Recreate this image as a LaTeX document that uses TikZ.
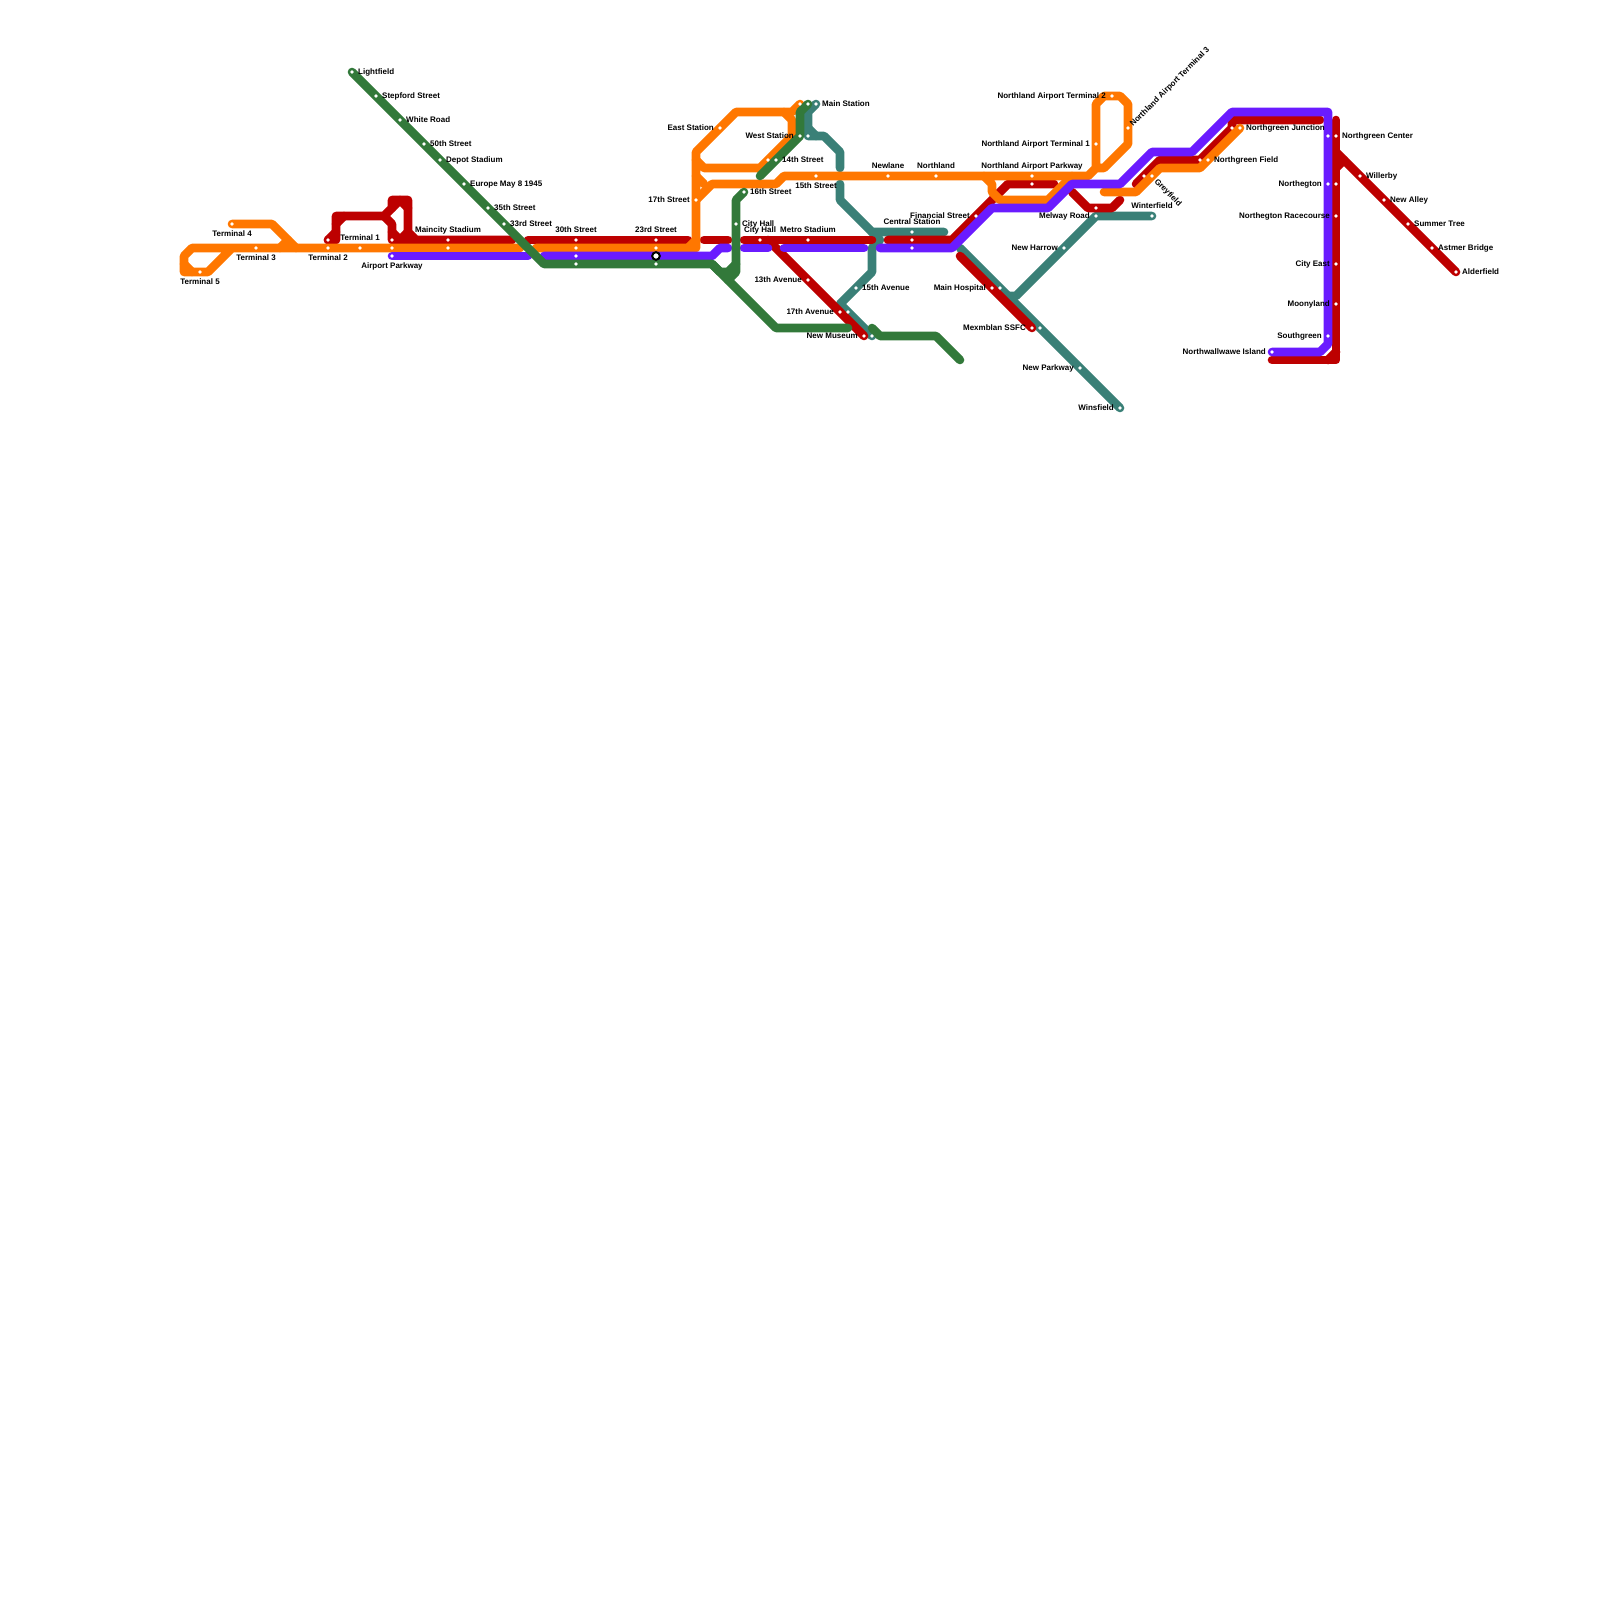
\documentclass[tikz,border=0pt]{standalone}
\usepackage{fontspec}
\setmainfont{Liberation Sans}
\usepackage{xcolor}
\usepackage{tikz}
\usetikzlibrary{positioning,backgrounds}
\definecolor{lineorange}{HTML}{FF7700}
\definecolor{linered}{HTML}{BD0000}
\definecolor{linepurple}{HTML}{6A1BFF}
\definecolor{linegreen}{HTML}{32793A}
\definecolor{lineteal}{HTML}{3A8077}
\tikzset{
  route/.style={line width=8.6pt, line cap=round, line join=round},
  orangeroute/.style={route, draw=lineorange},
  redroute/.style={route, draw=linered},
  purpleroute/.style={route, draw=linepurple},
  greenroute/.style={route, draw=linegreen},
  tealroute/.style={route, draw=lineteal},
  stn/.style={circle, fill=white, inner sep=0pt, minimum size=3.8pt},
  interchange/.style={circle, draw=black, line width=2pt, fill=white, inner sep=0pt, minimum size=7.6pt},
  lbl/.style={font=\fontsize{8}{8}\selectfont\bfseries, inner sep=0pt, text height=5.8pt, text depth=0pt, text=black},
  rlab/.style={lbl, right=6pt of #1.center},
  llab/.style={lbl, left=6pt of #1.center},
  ulab/.style={lbl, above=10pt of #1.center, anchor=center},
  dlab/.style={lbl, below=10pt of #1.center, anchor=center}
}
\begin{document}
\begin{tikzpicture}[x=1pt,y=-1pt]
    \useasboundingbox (0,0) rectangle (1600,1600);

    \node[stn] (lightfield) at (352,72) {};
    \node[stn] (stepford) at (376,96) {};
    \node[stn] (whiteroad) at (400,120) {};
    \node[stn] (fiftieth) at (424,144) {};
    \node[stn] (depot) at (440,160) {};
    \node[stn] (europe) at (464,184) {};
    \node[stn] (thirtyfifth) at (488,208) {};
    \node[stn] (thirtythird) at (504,224) {};
    \node[stn] (terminalfour) at (232,224) {};
    \node[stn] (terminalthree) at (256,248) {};
    \node[stn] (terminalfive) at (200,272) {};
    \node[stn] (terminaltwo) at (328,248) {};
    \node[stn] (terminaltwored) at (328,240) {};
    \node[stn] (terminalone) at (360,248) {};
    \node[stn] (airportred) at (392,240) {};
    \node[stn] (airportorange) at (392,248) {};
    \node[stn] (airport) at (392,256) {};
    \node[stn] (maincityred) at (448,240) {};
    \node[stn] (maincity) at (448,248) {};
    \node[stn] (thirtiethred) at (576,240) {};
    \node[stn] (thirtiethorange) at (576,248) {};
    \node[stn] (thirtiethpurple) at (576,256) {};
    \node[stn] (thirtiethgreen) at (576,264) {};
    \node[stn] (twentythirdred) at (656,240) {};
    \node[stn] (twentythirdorange) at (656,248) {};
    \node[interchange] (twentythird) at (656,256) {};
    \node[stn] (twentythirdgreen) at (656,264) {};
    \node[stn] (seventeenth) at (696,200) {};
    \node[stn] (eaststation) at (720,128) {};
    \node[stn] (mainorange) at (800,104) {};
    \node[stn] (maingreen) at (808,104) {};
    \node[stn] (mainteal) at (816,104) {};
    \node[stn] (westgreen) at (800,136) {};
    \node[stn] (westteal) at (808,136) {};
    \node[stn] (fourteenthorange) at (768,160) {};
    \node[stn] (fourteenth) at (776,160) {};
    \node[stn] (fifteenth) at (816,176) {};
    \node[stn] (sixteenth) at (744,192) {};
    \node[stn] (cityhallgreen) at (736,224) {};
    \node[stn] (cityhallred) at (760,240) {};
    \node[stn] (metrostadium) at (808,240) {};
    \node[stn] (thirteenthave) at (808,280) {};
    \node[stn] (fifteenthave) at (856,288) {};
    \node[stn] (seventeenthave) at (840,312) {};
    \node[stn] (seventeenthteal) at (848,312) {};
    \node[stn] (newmuseum) at (864,336) {};
    \node[stn] (newmuseumteal) at (872,336) {};
    \node[stn] (newlane) at (888,176) {};
    \node[stn] (northland) at (936,176) {};
    \node[stn] (central) at (912,232) {};
    \node[stn] (centralred) at (912,240) {};
    \node[stn] (centralpurple) at (912,248) {};
    \node[stn] (financial) at (976,216) {};
    \node[stn] (parkway) at (1032,176) {};
    \node[stn] (parkwayred) at (1032,184) {};
    \node[stn] (airportone) at (1096,144) {};
    \node[stn] (airporttwo) at (1112,96) {};
    \node[stn] (airportthree) at (1128,128) {};
    \node[stn] (melwayred) at (1096,208) {};
    \node[stn] (melway) at (1096,216) {};
    \node[stn] (winterfield) at (1152,216) {};
    \node[stn] (newharrow) at (1064,248) {};
    \node[stn] (mainhospital) at (992,288) {};
    \node[stn] (mainhospitalteal) at (1000,288) {};
    \node[stn] (mexmblan) at (1032,328) {};
    \node[stn] (mexmblanteal) at (1040,328) {};
    \node[stn] (newparkway) at (1080,368) {};
    \node[stn] (winsfield) at (1120,408) {};
    \node[stn] (greyfieldred) at (1144,176) {};
    \node[stn] (greyfield) at (1152,176) {};
    \node[stn] (northgreenfieldred) at (1200,160) {};
    \node[stn] (northgreenfield) at (1208,160) {};
    \node[stn] (junctionred) at (1232,128) {};
    \node[stn] (junction) at (1240,128) {};
    \node[stn] (ncenterpurple) at (1328,136) {};
    \node[stn] (ncenter) at (1336,136) {};
    \node[stn] (northegtonred) at (1336,184) {};
    \node[stn] (northegton) at (1328,184) {};
    \node[stn] (racecourse) at (1336,216) {};
    \node[stn] (cityeast) at (1336,264) {};
    \node[stn] (moonyland) at (1336,304) {};
    \node[stn] (southgreen) at (1328,336) {};
    \node[stn] (wallwawe) at (1272,352) {};
    \node[stn] (willerby) at (1360,176) {};
    \node[stn] (newalley) at (1384,200) {};
    \node[stn] (summertree) at (1408,224) {};
    \node[stn] (astmer) at (1432,248) {};
    \node[stn] (alderfield) at (1456,272) {};

    \node[rlab=lightfield] (lightfieldtext) {Lightfield};
    \node[rlab=stepford] (stepfordtext) {Stepford Street};
    \node[rlab=whiteroad] (whiteroadtext) {White Road};
    \node[rlab=fiftieth] (fiftiethtext) {50th Street};
    \node[rlab=depot] (depottext) {Depot Stadium};
    \node[rlab=europe] (europetext) {Europe May 8 1945};
    \node[rlab=thirtyfifth] (thirtyfifthtext) {35th Street};
    \node[rlab=thirtythird] (thirtythirdtext) {33rd Street};
    \node[dlab=terminalfour] (terminalfourtext) {Terminal 4};
    \node[dlab=terminalthree] (terminalthreetext) {Terminal 3};
    \node[dlab=terminalfive] (terminalfivetext) {Terminal 5};
    \node[dlab=terminaltwo] (terminaltwotext) {Terminal 2};
    \node[ulab=terminalone] (terminalonetext) {Terminal 1};
    \node[dlab=airport] (airporttext) {Airport Parkway};
    \node[ulab=maincityred] (maincitytext) {Maincity Stadium};
    \node[ulab=thirtiethred] (thirtiethtext) {30th Street};
    \node[ulab=twentythirdred] (twentythirdtext) {23rd Street};
    \node[llab=seventeenth] (seventeenthtext) {17th Street};
    \node[llab=eaststation] (eaststationtext) {East Station};
    \node[rlab=mainteal] (maintext) {Main Station};
    \node[llab=westgreen] (westtext) {West Station};
    \node[rlab=fourteenth] (fourteenthtext) {14th Street};
    \node[dlab=fifteenth] (fifteenthtext) {15th Street};
    \node[rlab=sixteenth] (sixteenthtext) {16th Street};
    \node[rlab=cityhallgreen] (cityhallgreentext) {City Hall};
    \node[ulab=cityhallred] (cityhalltext) {City Hall};
    \node[ulab=metrostadium] (metrostadiumtext) {Metro Stadium};
    \node[llab=thirteenthave] (thirteenthavetext) {13th Avenue};
    \node[rlab=fifteenthave] (fifteenthavetext) {15th Avenue};
    \node[llab=seventeenthave] (seventeenthavetext) {17th Avenue};
    \node[llab=newmuseum] (newmuseumtext) {New Museum};
    \node[ulab=newlane] (newlanetext) {Newlane};
    \node[ulab=northland] (northlandtext) {Northland};
    \node[ulab=central] (centraltext) {Central Station};
    \node[llab=financial] (financialtext) {Financial Street};
    \node[ulab=parkway] (parkwaytext) {Northland Airport Parkway};
    \node[llab=airportone] (airportonetext) {Northland Airport Terminal 1};
    \node[llab=airporttwo] (airporttwotext) {Northland Airport Terminal 2};
    \node[lbl, rotate=45, anchor=west] (airportthreetext) at (1131,125) {Northland Airport Terminal 3};
    \node[lbl, rotate=-45, anchor=west] (greyfieldtext) at (1156,180) {Greyfield};
    \node[ulab=winterfield] (winterfieldtext) {Winterfield};
    \node[llab=melway] (melwaytext) {Melway Road};
    \node[llab=newharrow] (newharrowtext) {New Harrow};
    \node[llab=mainhospital] (mainhospitaltext) {Main Hospital};
    \node[llab=mexmblan] (mexmblantext) {Mexmblan SSFC};
    \node[llab=newparkway] (newparkwaytext) {New Parkway};
    \node[llab=winsfield] (winsfieldtext) {Winsfield};
    \node[rlab=northgreenfield] (northgreenfieldtext) {Northgreen Field};
    \node[rlab=junction] (junctiontext) {Northgreen Junction};
    \node[rlab=ncenter] (ncentertext) {Northgreen Center};
    \node[llab=northegton] (northegtontext) {Northegton};
    \node[llab=racecourse] (racecoursetext) {Northegton Racecourse};
    \node[llab=cityeast] (cityeasttext) {City East};
    \node[llab=moonyland] (moonylandtext) {Moonyland};
    \node[llab=southgreen] (southgreentext) {Southgreen};
    \node[llab=wallwawe] (wallwawetext) {Northwallwawe Island};
    \node[rlab=willerby] (willerbytext) {Willerby};
    \node[rlab=newalley] (newalleytext) {New Alley};
    \node[rlab=summertree] (summertreetext) {Summer Tree};
    \node[rlab=astmer] (astmertext) {Astmer Bridge};
    \node[rlab=alderfield] (alderfieldtext) {Alderfield};

    \coordinate (redstart) at (528,240);
    \coordinate (redwest) at (512,240);
    \coordinate (redmid) at (704,240);
    \coordinate (redmidend) at (728,240);
    \coordinate (redhall) at (744,240);
    \coordinate (redhallend) at (872,240);
    \coordinate (redeast) at (888,240);
    \coordinate (rednorth) at (1054,184);
    \coordinate (redgrey) at (1136,184);
    \coordinate (redtop) at (1320,120);
    \coordinate (redbottom) at (1272,360);
    \coordinate (redsouth) at (960,256);
    \coordinate (orangewest) at (520,248);
    \coordinate (orangeeast) at (536,248);
    \coordinate (orangegrey) at (1104,192);
    \coordinate (purplewest) at (528,256);
    \coordinate (purpleeast) at (544,256);
    \coordinate (purplemid) at (728,248);
    \coordinate (purplehall) at (744,248);
    \coordinate (purplehallend) at (768,248);
    \coordinate (purplemetro) at (784,248);
    \coordinate (purplemetroend) at (864,248);
    \coordinate (purplecentral) at (880,248);
    \coordinate (greenmuseum) at (848,328);
    \coordinate (greeneast) at (872,328);
    \coordinate (greenend) at (960,360);
    \coordinate (greenwest) at (760,176);
    \coordinate (tealwest) at (840,168);
    \coordinate (tealmid) at (840,184);
    \coordinate (tealcentral) at (944,232);
    \coordinate (tealsouth) at (960,248);
    \coordinate (tealjoin) at (1008,296);

    \begin{scope}[on background layer]
        \draw[tealroute] (mainteal.center) -- (808,112) -- (westteal.center) -- (824,136) -- (840,152) -- (tealwest);
        \draw[tealroute] (808,128) -- (816,136);
        \draw[tealroute] (tealmid) -- (840,200) -- (872,232) -- (tealcentral);
        \draw[tealroute] (872,232) -- (880,240) -- (872,248) -- (872,272) -- (840,304) -- (newmuseumteal.center);
        \draw[tealroute] (tealsouth) -- (winsfield.center);
        \draw[tealroute] (winterfield.center) -- (melway.center) -- (1016,296) -- (tealjoin);

        \draw[redroute] (terminaltwored.center) -- (336,240) -- (336,216) -- (384,216) -- (392,208) -- (392,200) -- (408,200) -- (408,232) -- (416,240) -- (redwest);
        \draw[redroute] (terminaltwored.center) -- (336,232);
        \draw[redroute] (336,224) -- (344,216);
        \draw[redroute] (384,216) -- (392,224) -- (airportred.center) -- (416,240);
        \draw[redroute] (392,208) -- (400,200) -- (408,208);
        \draw[redroute] (392,232) -- (400,240) -- (408,232);
        \draw[redroute] (redstart) -- (688,240);
        \draw[redroute] (redmid) -- (redmidend);
        \draw[redroute] (redhall) -- (redhallend);
        \draw[redroute] (768,240) -- (newmuseum.center);
        \draw[redroute] (redeast) -- (952,240) -- (1008,184) -- (rednorth);
        \draw[redroute] (1072,192) -- (1088,208) -- (1112,208) -- (1120,200);
        \draw[redroute] (redsouth) -- (mexmblan.center);
        \draw[redroute] (redgrey) -- (1160,160) -- (1200,160) -- (junctionred.center) -- (1232,120) -- (redtop);
        \draw[redroute] (1336,120) -- (1336,360) -- (redbottom);
        \draw[redroute] (1328,360) -- (1336,352);
        \draw[redroute] (1336,152) -- (alderfield.center);
        \draw[redroute] (1336,168) -- (1344,160);

        \draw[orangeroute] (280,248) -- (288,240);
        \draw[orangeroute] (terminalfour.center) -- (272,224) -- (296,248);
        \draw[orangeroute] (orangewest) -- (192,248) -- (184,256) -- (184,272) -- (208,272) -- (232,248);
        \draw[orangeroute] (184,264) -- (192,272);
        \draw[orangeroute] (orangeeast) -- (696,248) -- (696,152) -- (736,112) -- (792,112) -- (mainorange.center);
        \draw[orangeroute] (688,248) -- (696,240);
        \draw[orangeroute] (784,112) -- (792,120) -- (792,136) -- (760,168) -- (704,168) -- (696,160);
        \draw[orangeroute] (696,176) -- (704,184);
        \draw[orangeroute] (seventeenth.center) -- (712,184) -- (776,184) -- (784,176) -- (1088,176) -- (1096,168) -- (1096,104) -- (1104,96) -- (1120,96) -- (1128,104) -- (1128,144) -- (1104,168) -- (1096,168);
        \draw[orangeroute] (984,176) -- (992,184) -- (992,192) -- (1000,200) -- (1048,200) -- (1072,176);
        \draw[orangeroute] (orangegrey) -- (1136,192) -- (1160,168) -- (1200,168) -- (junction.center);

        \draw[purpleroute] (airport.center) -- (purplewest);
        \draw[purpleroute] (purpleeast) -- (712,256) -- (720,248) -- (purplemid);
        \draw[purpleroute] (purplehall) -- (purplehallend);
        \draw[purpleroute] (purplemetro) -- (purplemetroend);
        \draw[purpleroute] (purplecentral) -- (952,248) -- (992,208) -- (1048,208) -- (1072,184) -- (1120,184) -- (1152,152) -- (1192,152) -- (1232,112) -- (1328,112) -- (1328,344) -- (1320,352) -- (wallwawe.center);

        \draw[greenroute] (lightfield.center) -- (544,264) -- (712,264) -- (776,328) -- (greenmuseum);
        \draw[greenroute] (712,264) -- (720,272) -- (728,272) -- (736,264);
        \draw[greenroute] (sixteenth.center) -- (736,200) -- (736,272) -- (728,280);
        \draw[greenroute] (greenwest) -- (westgreen.center) -- (800,112) -- (maingreen.center);
        \draw[greenroute] (greeneast) -- (880,336) -- (936,336) -- (greenend);
    \end{scope}
\end{tikzpicture}
\end{document}
